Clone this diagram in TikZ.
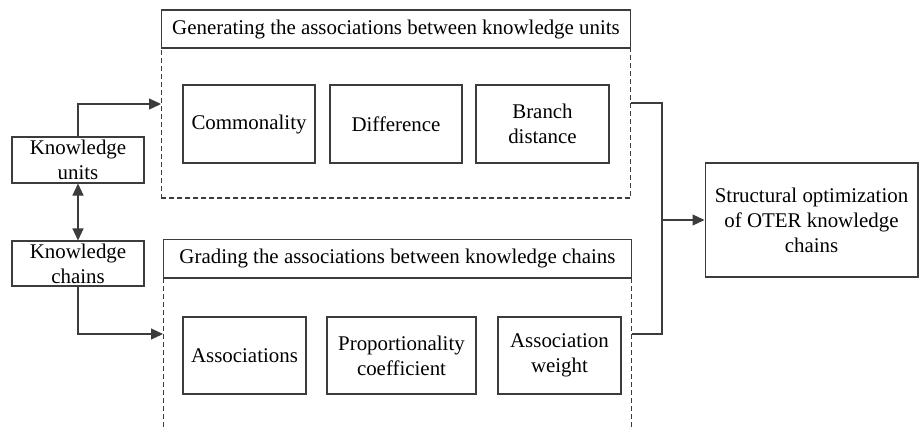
\documentclass[tikz,border=0pt]{standalone}
\usepackage{fontspec}
\setmainfont{Liberation Serif}
\usetikzlibrary{arrows.meta}
\definecolor{lineGray}{HTML}{3C3C3C}

\begin{document}
\begin{tikzpicture}[x=0.02cm,y=-0.02cm,
  font=\fontsize{11.9}{14.2}\selectfont,
  box/.style={draw=lineGray,line width=0.6pt,align=center,inner sep=0pt},
  groupbox/.style={draw=lineGray,line width=0.6pt,dash pattern=on 0.1cm off 0.06cm},
  link/.style={draw=lineGray,line width=0.6pt},
  flow/.style={link,-{Triangle[length=0.24cm,width=0.22cm]}},
  biflow/.style={link,{Triangle[length=0.24cm,width=0.22cm]}-{Triangle[length=0.24cm,width=0.22cm]}}]
\clip (0,0) rectangle (920,427);

% Left inputs.
\node[box,minimum width=2.64cm,minimum height=0.92cm] (units) at (78,160) {Knowledge\\units};
\node[box,minimum width=2.64cm,minimum height=0.9cm] (chains) at (78,263.5) {Knowledge\\chains};

% Upper group: associations between knowledge units.
\node[groupbox,minimum width=9.4cm,minimum height=3.76cm] (genbox) at (396,104) {};
\node[box,fill=white,minimum width=9.4cm,minimum height=0.76cm,anchor=north] (gentitle) at (genbox.north)
  {Generating the associations between knowledge units};
\node[box,minimum width=2.64cm,minimum height=1.56cm] (common) at (249,124) {Commonality};
\node[box,minimum width=2.64cm,minimum height=1.56cm] (diff) at (396,124) {Difference};
\node[box,minimum width=2.66cm,minimum height=1.56cm] (branch) at (542.5,124) {Branch\\distance};

% Lower group: grading of chain associations (runs past the bottom edge).
\node[groupbox,minimum width=9.38cm,minimum height=4.62cm] (gradbox) at (397.5,354.5) {};
\node[box,fill=white,minimum width=9.38cm,minimum height=0.78cm,anchor=north] (gradtitle) at (gradbox.north)
  {Grading the associations between knowledge chains};
\node[box,minimum width=2.46cm,minimum height=1.54cm] (assoc) at (244.5,355.5) {Associations};
\node[box,minimum width=2.98cm,minimum height=1.54cm] (prop) at (401.5,355.5) {Proportionality\\coefficient};
\node[box,minimum width=2.46cm,minimum height=1.54cm] (weight) at (559.5,355.5) {Association\\weight};

% Result.
\node[box,minimum width=4.26cm,minimum height=2.28cm] (result) at (811.5,220)
  {Structural optimization\\of OTER knowledge\\chains};

% Connectors.
\coordinate (genin) at (161,104);
\coordinate (gradin) at (163,334);
\coordinate (genout) at (631,103);
\coordinate (gradout) at (632,334);
\coordinate (merge) at (662,220);
\draw[flow] (units.north) |- (genin);
\draw[biflow] (units) -- (chains);
\draw[flow] (chains.south) |- (gradin);
\draw[link] (genout) -| (merge) |- (gradout);
\draw[flow] (merge) -- (result);

\end{tikzpicture}
\end{document}
